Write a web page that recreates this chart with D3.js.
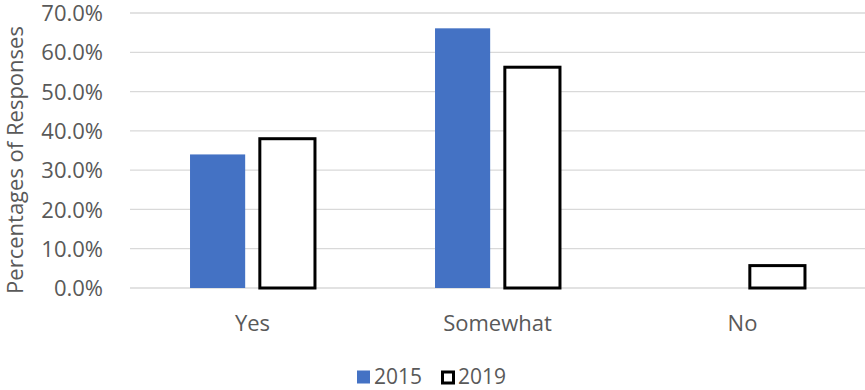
<!DOCTYPE html>
<html>
<head>
<meta charset="utf-8">
<script src="https://cdn.jsdelivr.net/npm/d3@7"></script>
<style>
  body { margin: 0; background: #fff; }
  svg text { font-family: "Open Sans", "Liberation Sans", sans-serif; fill: #595959; }
</style>
</head>
<body>
<div id="chart"></div>
<script>
const categories = ["Yes", "Somewhat", "No"];
const seriesNames = ["2015", "2019"];
const values2015 = [34.0, 66.1, 0];
const values2019 = [38.0, 56.2, 5.7];
const yTicks = [0, 10, 20, 30, 40, 50, 60, 70];

const conf = { width: 865, height: 390, left: 130, right: 0, top: 13, bottom: 102 };

const svg = d3.select("#chart").append("svg")
    .attr("width", conf.width)
    .attr("height", conf.height);

const y = d3.scaleLinear()
    .domain([0, 70])
    .range([conf.height - conf.bottom, conf.top]);

const x0 = d3.scaleBand()
    .domain(categories)
    .range([conf.left, conf.width - conf.right])
    .paddingInner(0.49)
    .paddingOuter(0.245);

const x1 = d3.scaleBand()
    .domain(seriesNames)
    .range([0, x0.bandwidth()])
    .paddingInner(0.21);

// gridlines
svg.append("g")
    .selectAll("line")
    .data(yTicks)
    .join("line")
    .attr("x1", conf.left)
    .attr("x2", conf.width - conf.right)
    .attr("y1", d => y(d))
    .attr("y2", d => y(d))
    .attr("stroke", "#d9d9d9")
    .attr("stroke-width", 1.3);

// y axis labels
const yAxis = svg.append("g")
    .attr("transform", `translate(${conf.left - 27},0)`)
    .call(d3.axisLeft(y).tickValues(yTicks).tickSize(0).tickPadding(0).tickFormat(d => d.toFixed(1) + "%"));
yAxis.select(".domain").remove();
yAxis.selectAll("text").style("font-size", "22px").attr("dy", "0.35em");

// bars
const rows = categories.map((c, i) => ({ cat: c, vals: [values2015[i], values2019[i]] }));

const groups = svg.append("g")
    .selectAll("g")
    .data(rows)
    .join("g")
    .attr("transform", d => `translate(${x0(d.cat)},0)`);

groups.selectAll("rect")
    .data(d => d.vals.map((v, j) => ({ key: seriesNames[j], v: v })))
    .join("rect")
    .attr("x", d => x1(d.key))
    .attr("width", x1.bandwidth())
    .attr("y", d => y(d.v))
    .attr("height", d => y(0) - y(d.v))
    .attr("fill", d => d.key === "2015" ? "#4472c4" : "#ffffff")
    .attr("stroke", d => d.key === "2015" ? "none" : "#000")
    .attr("stroke-width", d => d.key === "2015" ? 0 : 3)
    .style("display", d => d.v === 0 ? "none" : null);

// x axis labels
svg.append("g")
    .selectAll("text")
    .data(categories)
    .join("text")
    .attr("x", d => x0(d) + x0.bandwidth() / 2)
    .attr("y", y(0) + 43)
    .attr("text-anchor", "middle")
    .style("font-size", "22px")
    .text(d => d);

// y axis title
svg.append("text")
    .attr("transform", `translate(23,160) rotate(-90)`)
    .attr("text-anchor", "middle")
    .style("font-size", "22px")
    .text("Percentages of Responses");

// legend
const legend = svg.append("g").attr("transform", "translate(357,377)");
legend.append("rect")
    .attr("x", 0).attr("y", -6.5).attr("width", 13).attr("height", 13)
    .attr("fill", "#4472c4");
legend.append("text")
    .attr("x", 17).attr("y", 0).attr("dy", "0.35em")
    .style("font-size", "21px").text(seriesNames[0]);
legend.append("rect")
    .attr("x", 85.5).attr("y", -5).attr("width", 11).attr("height", 11)
    .attr("fill", "#fff").attr("stroke", "#000").attr("stroke-width", 3);
legend.append("text")
    .attr("x", 101).attr("y", 0).attr("dy", "0.35em")
    .style("font-size", "21px").text(seriesNames[1]);
</script>
</body>
</html>
